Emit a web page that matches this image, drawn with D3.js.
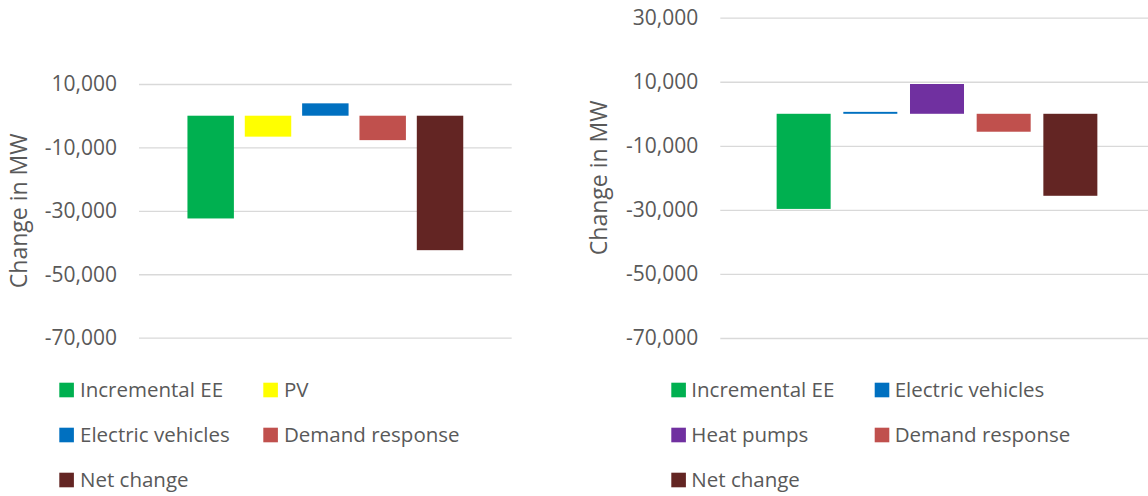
<!DOCTYPE html>
<html>
<head>
<meta charset="utf-8">
<script src="https://cdn.jsdelivr.net/npm/d3@7"></script>
<style>
  body { margin: 0; background: #fff; }
  text { font-family: "Open Sans", sans-serif; fill: #595959; }
</style>
</head>
<body>
<svg id="chart" width="1148" height="496"></svg>
<script>
// Peak load change by driver, two scenarios (MW)
const leftSeries  = ["Incremental EE", "PV", "Electric vehicles", "Demand response", "Net change"];
const leftValues  = [-32400, -6600, 3900, -7700, -42400];
const leftTicks   = [10000, -10000, -30000, -50000, -70000];

const rightSeries = ["Incremental EE", "Electric vehicles", "Heat pumps", "Demand response", "Net change"];
const rightValues = [-29700, 600, 9300, -5600, -25600];
const rightTicks  = [30000, 10000, -10000, -30000, -50000, -70000];

const axisTitle = "Change in MW";

const seriesColor = {
  "Incremental EE": "#00B050",
  "PV": "#FFFF00",
  "Electric vehicles": "#0070C0",
  "Heat pumps": "#7030A0",
  "Demand response": "#C0504D",
  "Net change": "#632523"
};

const fmt = v => d3.format(",")(v).replace("\u2212", "-");

const svg = d3.select("#chart");

function drawPanel(cfg) {
  const { series, values, ticks } = cfg;
  const x = d3.scaleBand()
    .domain(series)
    .range([cfg.x0, cfg.x1])
    .paddingInner(0.19)
    .paddingOuter(0.845);
  const y = d3.scaleLinear()
    .domain([d3.min(ticks), d3.max(ticks)])
    .range([cfg.yBottom, cfg.yTop]);

  const g = svg.append("g");

  // gridlines + tick labels
  const axis = d3.axisLeft(y)
    .tickValues(ticks)
    .tickFormat(fmt)
    .tickSize(-(cfg.gridEnd - cfg.x0))
    .tickPadding(22);
  const ag = g.append("g")
    .attr("transform", `translate(${cfg.x0},0)`)
    .call(axis);
  ag.select(".domain").remove();
  ag.selectAll(".tick line").attr("stroke", "#D9D9D9").attr("stroke-width", 1.3);
  ag.selectAll(".tick text")
    .style("font-size", "21px")
    .style("font-family", "'Open Sans', sans-serif")
    .attr("fill", "#595959");

  // bars, all measured from zero
  g.selectAll("rect.bar")
    .data(series.map((s, i) => ({ s, v: values[i] })))
    .join("rect")
    .attr("class", "bar")
    .attr("x", d => x(d.s))
    .attr("width", x.bandwidth())
    .attr("y", d => y(Math.max(0, d.v)))
    .attr("height", d => Math.abs(y(d.v) - y(0)))
    .attr("fill", d => seriesColor[d.s]);

  // axis title
  g.append("text")
    .attr("transform", `translate(${cfg.titleX},${(cfg.yTop + cfg.yBottom) / 2}) rotate(-90)`)
    .attr("text-anchor", "middle")
    .style("font-size", "23px")
    .text(axisTitle);

  // legend, two columns, row-major
  const lg = g.append("g");
  const item = lg.selectAll("g.item")
    .data(series)
    .join("g")
    .attr("class", "item")
    .attr("transform", (d, i) =>
      `translate(${cfg.legendX + (i % 2) * cfg.legendColW},${cfg.legendY + Math.floor(i / 2) * 45})`);
  item.append("rect")
    .attr("x", 0).attr("y", -7.3)
    .attr("width", 14.6).attr("height", 14.6)
    .attr("fill", d => seriesColor[d]);
  item.append("text")
    .attr("x", cfg.legendTextDx)
    .attr("dy", "0.35em")
    .style("font-size", "20.5px")
    .text(d => d);
}

drawPanel({
  series: leftSeries, values: leftValues, ticks: leftTicks,
  x0: 139, x1: 511.7, gridEnd: 511.7,
  yTop: 84, yBottom: 337.7,
  titleX: 27,
  legendX: 59.3, legendY: 390, legendColW: 204, legendTextDx: 20.7
});

drawPanel({
  series: rightSeries, values: rightValues, ticks: rightTicks,
  x0: 720.3, x1: 1153.7, gridEnd: 1153.7,
  yTop: 17.7, yBottom: 338,
  titleX: 607,
  legendX: 671.3, legendY: 390, legendColW: 203.4, legendTextDx: 20
});
</script>
</body>
</html>
